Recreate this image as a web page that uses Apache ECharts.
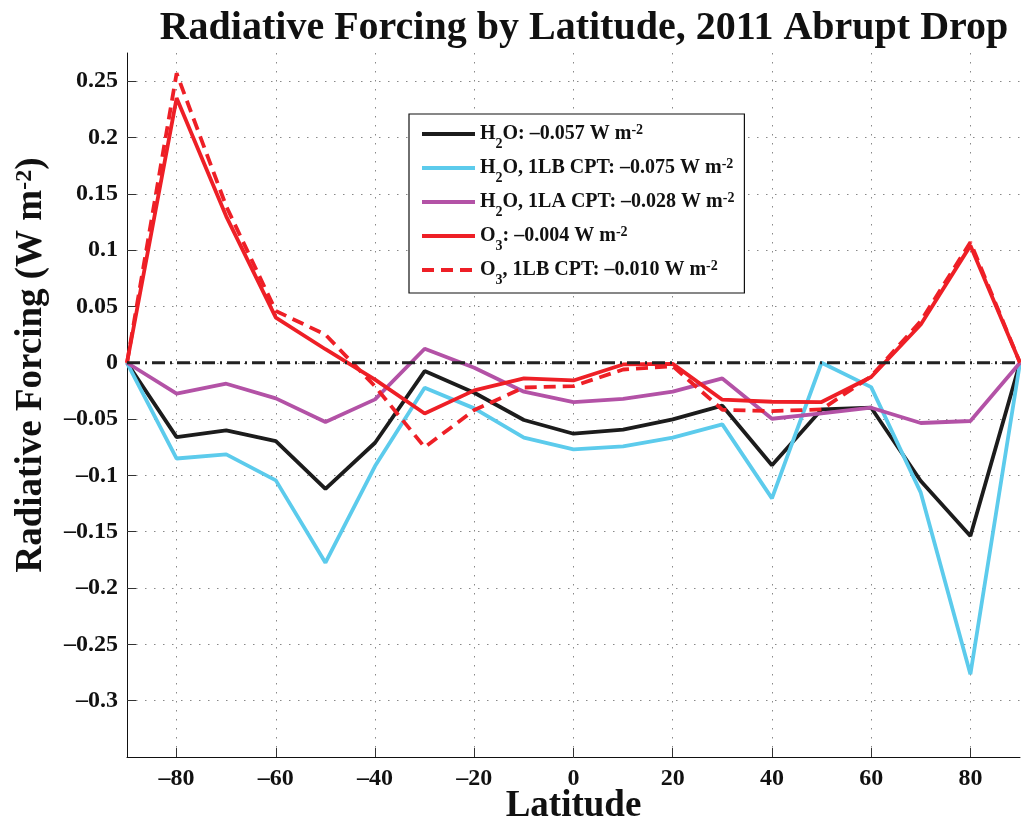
<!DOCTYPE html>
<html>
<head>
<meta charset="utf-8">
<script src="https://cdn.jsdelivr.net/npm/echarts@6/dist/echarts.min.js"></script>
<style>
  html, body { margin: 0; padding: 0; background: #fff; }
  #chart { width: 1021px; height: 824px; }
</style>
</head>
<body>
<div id="chart"></div>
<script>
// Zonal-mean radiative forcing, sampled every 10 degrees of latitude
const latitudes = [-90, -80, -70, -60, -50, -40, -30, -20, -10, 0, 10, 20, 30, 40, 50, 60, 70, 80, 90];

const h2o      = [0, -0.066, -0.060, -0.0695, -0.112, -0.071, -0.0074, -0.0266, -0.0508, -0.063, -0.0594, -0.0503, -0.0381, -0.091, -0.0414, -0.0399, -0.105, -0.1538, 0];
const h2o1lb   = [0, -0.085, -0.0813, -0.1044, -0.1775, -0.0917, -0.0222, -0.0405, -0.0665, -0.0769, -0.0742, -0.0665, -0.0547, -0.1204, 0.0, -0.0216, -0.1153, -0.2765, 0];
const h2o1la   = [0, -0.0275, -0.0186, -0.0316, -0.0526, -0.0325, 0.0124, -0.0044, -0.0257, -0.0349, -0.032, -0.0257, -0.0139, -0.0497, -0.0449, -0.0399, -0.0535, -0.0517, 0];
const o3       = [0, 0.235, 0.130, 0.040, 0.012, -0.015, -0.045, -0.0245, -0.0139, -0.0157, -0.0015, -0.001, -0.0328, -0.0346, -0.0349, -0.0127, 0.034, 0.104, 0];
const o3_1lb   = [0, 0.257, 0.139, 0.046, 0.025, -0.021, -0.075, -0.042, -0.022, -0.0207, -0.006, -0.003, -0.0417, -0.0429, -0.0414, -0.012, 0.037, 0.107, 0];

// Global means quoted in the legend
const seriesNames  = ['h2o', 'h2o1lb', 'h2o1la', 'o3', 'o3_1lb'];
const legendLabels = [
  '{n|H}{sub|2}{n|O: –0.057 W m}{sup|-2}',
  '{n|H}{sub|2}{n|O, 1LB CPT: –0.075 W m}{sup|-2}',
  '{n|H}{sub|2}{n|O, 1LA CPT: –0.028 W m}{sup|-2}',
  '{n|O}{sub|3}{n|: –0.004 W m}{sup|-2}',
  '{n|O}{sub|3}{n|, 1LB CPT: –0.010 W m}{sup|-2}'
];

const xTicks = [-80, -60, -40, -20, 0, 20, 40, 60, 80];
const yTicks = [-0.3, -0.25, -0.2, -0.15, -0.1, -0.05, 0, 0.05, 0.1, 0.15, 0.2, 0.25];

const FONT = 'Liberation Serif';

function pairs(vals) {
  return latitudes.map((lat, i) => [lat, vals[i]]);
}
function fmt(v) {
  const s = String(Number(v.toFixed(3)));
  return s.replace('-', '–');
}

const lineSeries = [
  { key: 'h2o',    vals: h2o,    color: '#1c1c1c', type: 'solid' },
  { key: 'h2o1lb', vals: h2o1lb, color: '#5ccbec', type: 'solid' },
  { key: 'h2o1la', vals: h2o1la, color: '#b352a6', type: 'solid' },
  { key: 'o3',     vals: o3,     color: '#ee1f26', type: 'solid' },
  { key: 'o3_1lb', vals: o3_1lb, color: '#ee1f26', type: [12, 7] }
].map(s => ({
  name: s.key,
  type: 'line',
  data: pairs(s.vals),
  symbol: 'none',
  silent: true,
  itemStyle: { color: s.color },
  lineStyle: { color: s.color, width: 3.8, type: s.type }
}));

// Zero reference line, dash-dot
lineSeries.push({
  name: 'zero',
  type: 'line',
  data: [[latitudes[0], 0], [latitudes[latitudes.length - 1], 0]],
  symbol: 'none',
  silent: true,
  z: 5,
  lineStyle: { color: '#222', width: 3, type: [13, 5, 2, 5] }
});

const rich = {
  n:   { fontFamily: FONT, fontWeight: 'bold', fontSize: 20, lineHeight: 34, color: '#111' },
  sub: { fontFamily: FONT, fontWeight: 'bold', fontSize: 14, lineHeight: 14, verticalAlign: 'bottom', color: '#111' },
  sup: { fontFamily: FONT, fontWeight: 'bold', fontSize: 14, lineHeight: 14, verticalAlign: 'top', padding: [6, 0, 0, 0], color: '#111' }
};

const chart = echarts.init(document.getElementById('chart'), null, { renderer: 'canvas' });

chart.setOption({
  backgroundColor: '#fff',
  animation: false,
  title: {
    text: 'Radiative Forcing by Latitude, 2011 Abrupt Drop',
    left: 579,
    top: 4,
    textAlign: 'center',
    textStyle: { fontFamily: FONT, fontWeight: 'bold', fontSize: 40, color: '#111' }
  },
  grid: { left: 127, right: 1, top: 53, bottom: 67, containLabel: false, outerBoundsMode: 'none' },
  xAxis: {
    type: 'value',
    min: -90,
    max: 90,
    name: 'Latitude',
    nameLocation: 'middle',
    nameGap: 31,
    nameMoveOverlap: false,
    nameTextStyle: { fontFamily: FONT, fontWeight: 'bold', fontSize: 37, color: '#111' },
    axisLine: { show: true, onZero: false, lineStyle: { color: '#111', width: 1 } },
    axisTick: { show: true, inside: true, length: 9, customValues: xTicks, lineStyle: { color: '#333' } },
    axisLabel: {
      customValues: xTicks,
      margin: 10,
      formatter: fmt,
      fontFamily: FONT, fontWeight: 'bold', fontSize: 24, color: '#111'
    },
    splitLine: { show: true, lineStyle: { color: '#888', width: 1, type: [1.5, 7.5] } }
  },
  yAxis: {
    type: 'value',
    min: -0.35,
    max: 0.275,
    axisLine: { show: true, onZero: false, lineStyle: { color: '#111', width: 1 } },
    axisTick: { show: true, inside: true, length: 9, customValues: yTicks, lineStyle: { color: '#333' } },
    axisLabel: {
      customValues: yTicks,
      margin: 9,
      formatter: fmt,
      fontFamily: FONT, fontWeight: 'bold', fontSize: 24, color: '#111'
    },
    splitLine: { show: true, lineStyle: { color: '#888', width: 1, type: [1.5, 7.5] } }
  },
  legend: {
    data: seriesNames,
    orient: 'vertical',
    left: 409,
    top: 114,
    backgroundColor: '#fff',
    borderColor: '#111',
    borderWidth: 1.2,
    borderRadius: 0,
    padding: [3, 10, 6, 11],
    itemGap: 0,
    itemWidth: 53,
    itemHeight: 14,
    selectedMode: false,
    itemStyle: { opacity: 0 },
    lineStyle: { width: 4 },
    formatter: name => legendLabels[seriesNames.indexOf(name)],
    textStyle: { fontFamily: FONT, fontWeight: 'bold', fontSize: 20, color: '#111', rich: rich }
  },
  graphic: [{
    type: 'text',
    x: 31,
    y: 365,
    rotation: Math.PI / 2,
    style: {
      text: '{m|Radiative Forcing (W m}{s|-2}{m|)}',
      align: 'center',
      verticalAlign: 'middle',
      rich: {
        m: { fontFamily: FONT, fontWeight: 'bold', fontSize: 37, lineHeight: 44, fill: '#111' },
        s: { fontFamily: FONT, fontWeight: 'bold', fontSize: 24, lineHeight: 24, verticalAlign: 'top', padding: [4, 0, 0, 0], fill: '#111' }
      }
    }
  }],
  series: lineSeries
});
</script>
</body>
</html>
